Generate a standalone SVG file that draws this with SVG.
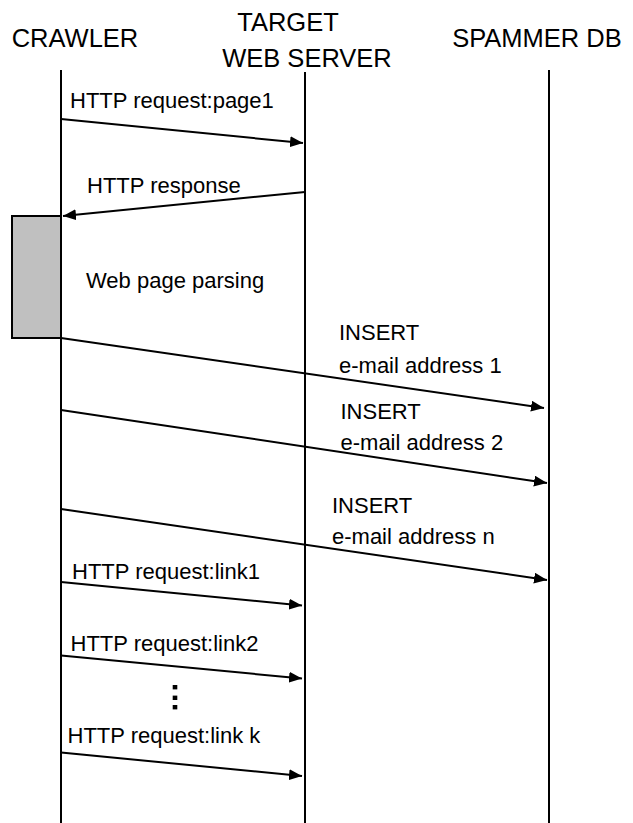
<svg xmlns="http://www.w3.org/2000/svg" width="633" height="823" viewBox="0 0 633 823">
<style>
.hdr{font-family:"Liberation Sans",Arial,sans-serif;font-size:25.5px;fill:#000}
.lbl{font-family:"Liberation Sans",Arial,sans-serif;font-size:22px;fill:#000}
.life{stroke:#000;stroke-width:2;fill:none}
.msg{stroke:#000;stroke-width:2;fill:none;marker-end:url(#ah)}
</style>
<defs>
<marker id="ah" markerWidth="13" markerHeight="11" refX="13" refY="5.5" orient="auto" markerUnits="userSpaceOnUse">
<path d="M0,0 L13,5.5 L0,11 Z" fill="#000"/>
</marker>
</defs>
<rect width="633" height="823" fill="#fff"/>
<g id="crawler">
<text class="hdr" x="75" y="47" text-anchor="middle">CRAWLER</text>
<line class="life" x1="61" y1="70" x2="61" y2="823"/>
</g>
<g id="target">
<text class="hdr" x="288" y="31" text-anchor="middle">TARGET</text>
<text class="hdr" x="307" y="67" text-anchor="middle">WEB SERVER</text>
<line class="life" x1="305" y1="72" x2="305" y2="823"/>
</g>
<g id="spammer">
<text class="hdr" x="537" y="47" text-anchor="middle">SPAMMER DB</text>
<line class="life" x1="549" y1="70" x2="549" y2="823"/>
</g>
<g id="parsing">
<rect x="12" y="216" width="49" height="122" fill="#c0c0c0" stroke="#000" stroke-width="2"/>
<text class="lbl" x="86" y="288">Web page parsing</text>
</g>
<g id="connectors">
<line class="msg" x1="61" y1="119" x2="303" y2="143"/>
<line class="msg" x1="305" y1="192" x2="63" y2="216"/>
<line class="msg" x1="61" y1="338" x2="544" y2="408"/>
<line class="msg" x1="61" y1="410" x2="547" y2="483"/>
<line class="msg" x1="61" y1="509" x2="547" y2="580"/>
<line class="msg" x1="61" y1="582" x2="302" y2="605.5"/>
<line class="msg" x1="61" y1="655.5" x2="302" y2="678.5"/>
<line class="msg" x1="61" y1="752.5" x2="302" y2="776"/>
</g>
<g id="labels">
<text class="lbl" x="70" y="108">HTTP request:page1</text>
<text class="lbl" x="87" y="193">HTTP response</text>
<text class="lbl" x="339" y="340">INSERT</text>
<text class="lbl" x="339" y="372.5">e-mail address 1</text>
<text class="lbl" x="340.5" y="419">INSERT</text>
<text class="lbl" x="340.5" y="450">e-mail address 2</text>
<text class="lbl" x="332" y="512.5">INSERT</text>
<text class="lbl" x="332" y="544">e-mail address n</text>
<text class="lbl" x="72" y="579">HTTP request:link1</text>
<text class="lbl" x="70.5" y="650.5">HTTP request:link2</text>
<text class="lbl" x="67.5" y="742.5">HTTP request:link k</text>
</g>
<g id="ellipsis" fill="#000">
<rect x="172.7" y="685" width="4.6" height="4.4"/>
<rect x="172.7" y="695.6" width="4.6" height="4.4"/>
<rect x="172.7" y="705" width="4.6" height="4.4"/>
</g>
</svg>
